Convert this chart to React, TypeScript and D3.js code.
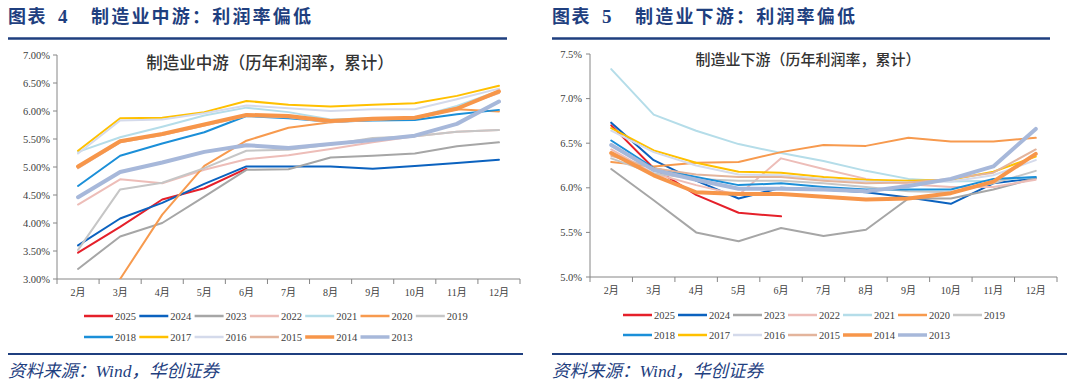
import React from "react";
import * as d3 from "d3";

const months = ["2月", "3月", "4月", "5月", "6月", "7月", "8月", "9月", "10月", "11月", "12月"];
const years = ["2025", "2024", "2023", "2022", "2021", "2020", "2019", "2018", "2017", "2016", "2015", "2014", "2013"];
const colors = ["#E5202A", "#0B62BF", "#A6A6A6", "#EDBDB8", "#B5DDE9", "#F79A4E", "#C6C6C6", "#1B8FD8", "#FFC000", "#D4DAEB", "#E3B49C", "#F7964A", "#A7B8DA"];
const widths = [2, 2, 2, 2, 2, 2, 2, 2, 2, 2, 2, 4, 4];

type V = number | null;

// 制造业中游 (left)
const mid2025: V[] = [3.47, 3.93, 4.42, 4.62, 4.97, null, null, null, null, null, null];
const mid2024: V[] = [3.6, 4.08, 4.36, 4.7, 5.01, 5.01, 5.01, 4.97, 5.02, 5.07, 5.13];
const mid2023: V[] = [3.18, 3.76, 4.0, 4.47, 4.95, 4.96, 5.17, 5.2, 5.24, 5.37, 5.44];
const mid2022: V[] = [4.33, 4.78, 4.71, 4.95, 5.14, 5.21, 5.32, 5.44, 5.55, 5.63, 5.66];
const mid2021: V[] = [5.27, 5.53, 5.72, 5.92, 6.06, 5.98, 5.85, 5.87, 5.88, 6.09, 6.36];
const mid2020: V[] = [null, 3.0, 4.15, 5.02, 5.47, 5.7, 5.8, 5.85, 5.87, 6.03, 5.99];
const mid2019: V[] = [3.52, 4.6, 4.72, 4.98, 5.29, 5.31, 5.4, 5.52, 5.55, 5.63, 5.66];
const mid2018: V[] = [4.66, 5.2, 5.42, 5.62, 5.91, 5.87, 5.81, 5.83, 5.84, 5.94, 6.02];
const mid2017: V[] = [5.29, 5.87, 5.88, 5.98, 6.18, 6.11, 6.08, 6.11, 6.14, 6.27, 6.45];
const mid2016: V[] = [5.24, 5.83, 5.85, 5.96, 6.1, 6.05, 6.0, 6.03, 6.03, 6.21, 6.4];
const mid2015: V[] = [4.98, 5.44, 5.57, 5.74, 5.91, 5.89, 5.8, 5.84, 5.88, 6.06, 6.32];
const mid2014: V[] = [5.01, 5.46, 5.59, 5.76, 5.93, 5.91, 5.82, 5.86, 5.88, 6.04, 6.35];
const mid2013: V[] = [4.46, 4.91, 5.08, 5.27, 5.39, 5.34, 5.41, 5.48, 5.56, 5.77, 6.17];

// 制造业下游 (right)
const down2025: V[] = [6.7, 6.22, 5.92, 5.72, 5.68, null, null, null, null, null, null];
const down2024: V[] = [6.73, 6.31, 6.08, 5.88, 6.0, 5.98, 5.95, 5.89, 5.82, 6.05, 6.11];
const down2023: V[] = [6.21, 5.86, 5.5, 5.4, 5.55, 5.46, 5.53, 5.88, 5.88, 5.98, 6.11];
const down2022: V[] = [6.43, 6.16, 6.03, 5.92, 6.33, 6.21, 6.1, 6.04, 6.01, 6.01, 6.09];
const down2021: V[] = [7.33, 6.82, 6.64, 6.49, 6.39, 6.3, 6.19, 6.1, 6.07, 6.08, 6.12];
const down2020: V[] = [6.29, 6.24, 6.28, 6.29, 6.4, 6.48, 6.47, 6.56, 6.52, 6.52, 6.56];
const down2019: V[] = [6.33, 6.16, 6.1, 6.08, 6.08, 6.05, 6.01, 5.96, 5.95, 6.05, 6.19];
const down2018: V[] = [6.53, 6.22, 6.12, 6.03, 6.05, 6.01, 5.98, 5.98, 5.98, 6.1, 6.12];
const down2017: V[] = [6.67, 6.42, 6.28, 6.18, 6.17, 6.12, 6.09, 6.08, 6.09, 6.18, 6.35];
const down2016: V[] = [6.64, 6.4, 6.25, 6.15, 6.14, 6.1, 6.07, 6.06, 6.07, 6.14, 6.31];
const down2015: V[] = [6.36, 6.22, 6.15, 6.12, 6.12, 6.08, 6.05, 6.06, 6.1, 6.17, 6.43];
const down2014: V[] = [6.39, 6.14, 5.95, 5.93, 5.93, 5.9, 5.87, 5.88, 5.94, 6.07, 6.38];
const down2013: V[] = [6.48, 6.2, 6.09, 5.99, 5.99, 5.98, 5.96, 6.02, 6.1, 6.24, 6.66];

const midSeries = [mid2025, mid2024, mid2023, mid2022, mid2021, mid2020, mid2019, mid2018, mid2017, mid2016, mid2015, mid2014, mid2013];
const downSeries = [down2025, down2024, down2023, down2022, down2021, down2020, down2019, down2018, down2017, down2016, down2015, down2014, down2013];

const midTicks = [3.0, 3.5, 4.0, 4.5, 5.0, 5.5, 6.0, 6.5, 7.0];
const downTicks = [5.0, 5.5, 6.0, 6.5, 7.0, 7.5];

const NAVY = "#1F3F7F";
const SERIF = "'Times New Roman', 'Liberation Serif', 'Noto Sans CJK SC', serif";
const CJK = "'Noto Sans CJK SC', sans-serif";

type PanelProps = {
  id: string;
  left: number;
  headerNum: string;
  headerText: string;
  title: string;
  titleX: number;
  titleY: number;
  titleSize: number;
  x0: number;
  x1: number;
  yTop: number;
  yBottom: number;
  domain: [number, number];
  ticks: number[];
  decimals: number;
  labelRight: number;
  series: V[][];
  legendX: number;
  legendY: number[];
  legendStep: number;
  ruleRight: number;
  footRight: number;
};

function Panel(p: PanelProps) {
  const x = d3.scaleBand<string>().domain(months).range([p.x0, p.x1]).padding(0);
  const y = d3.scaleLinear().domain(p.domain).range([p.yBottom, p.yTop]);
  const line = d3
    .line<V>()
    .defined((d) => d !== null)
    .x((_, i) => (x(months[i]) as number) + x.bandwidth() / 2)
    .y((d) => y(d as number));
  const boundaries = months.map((m) => x(m) as number).concat([p.x1]);
  const order = years.map((_, i) => i);
  return (
    <g>
      <text x={p.left} y={23} fontFamily={CJK} fontWeight={700} fontSize={18} letterSpacing={1.5} fill={NAVY}>
        图表
      </text>
      <text x={p.left + 50} y={23} fontFamily={SERIF} fontWeight={700} fontSize={19} fill={NAVY}>
        {p.headerNum}
      </text>
      <text x={p.left + 83} y={23} fontFamily={CJK} fontWeight={700} fontSize={18} letterSpacing={2.2} fill={NAVY}>
        {p.headerText}
      </text>
      <line x1={p.left} x2={p.ruleRight} y1={38.5} y2={38.5} stroke={NAVY} strokeWidth={2.5} />
      <text x={p.titleX} y={p.titleY} textAnchor="middle" dominantBaseline="central" fontFamily={CJK} fontWeight={500} fontSize={p.titleSize} fill="#333">
        {p.title}
      </text>
      <clipPath id={p.id}>
        <rect x={p.x0} y={p.yTop - 6} width={p.x1 - p.x0} height={p.yBottom - p.yTop + 6} />
      </clipPath>
      {p.ticks.map((t) => (
        <g key={t}>
          <line x1={p.x0 - 4} x2={p.x0} y1={y(t)} y2={y(t)} stroke="#868686" />
          <text x={p.labelRight} y={y(t)} textAnchor="end" dominantBaseline="central" fontFamily={SERIF} fontSize={10.5} fill="#404040">
            {d3.format(`.${p.decimals}f`)(t) + "%"}
          </text>
        </g>
      ))}
      <line x1={p.x0} x2={p.x0} y1={p.yTop} y2={p.yBottom} stroke="#868686" />
      <line x1={p.x0} x2={p.x1} y1={p.yBottom} y2={p.yBottom} stroke="#868686" />
      {boundaries.map((b, i) => (
        <line key={i} x1={b} x2={b} y1={p.yBottom} y2={p.yBottom + 5} stroke="#868686" />
      ))}
      {months.map((m) => (
        <text key={m} x={(x(m) as number) + x.bandwidth() / 2} y={p.yBottom + 13} textAnchor="middle" dominantBaseline="central" fontFamily={SERIF} fontSize={10} fill="#404040">
          {m}
        </text>
      ))}
      <g clipPath={`url(#${p.id})`}>
        {order.map((i) => (
          <path key={years[i]} d={line(p.series[i]) || ""} fill="none" stroke={colors[i]} strokeWidth={widths[i]} strokeLinejoin="round" strokeLinecap="round" />
        ))}
      </g>
      {years.map((yr, i) => {
        const row = i < 7 ? 0 : 1;
        const col = i < 7 ? i : i - 7;
        const lx = p.legendX + col * p.legendStep;
        const ly = p.legendY[row];
        return (
          <g key={yr}>
            <line x1={lx} x2={lx + 29} y1={ly} y2={ly} stroke={colors[i]} strokeWidth={widths[i] === 4 ? 3.5 : 2.5} />
            <text x={lx + 31} y={ly} dominantBaseline="central" fontFamily={SERIF} fontSize={10.5} fill="#404040">
              {yr}
            </text>
          </g>
        );
      })}
      <line x1={p.left} x2={p.footRight} y1={354} y2={354} stroke={NAVY} strokeWidth={2} />
      <text x={p.left} y={377} fontFamily={SERIF} fontStyle="italic" fontSize={17.5} fill={NAVY}>
        资料来源：Wind，华创证券
      </text>
    </g>
  );
}

export default function App() {
  return (
    <svg width={1080} height={385} style={{ position: "absolute", left: 0, top: 0, background: "#fff" }}>
      <rect x={0} y={0} width={1080} height={385} fill="#fff" />
      <Panel
        id="clipMid"
        left={8}
        headerNum="4"
        headerText="制造业中游：利润率偏低"
        title="制造业中游（历年利润率，累计）"
        titleX={270}
        titleY={62}
        titleSize={16.5}
        x0={57}
        x1={520}
        yTop={55}
        yBottom={279}
        domain={[3, 7]}
        ticks={midTicks}
        decimals={2}
        labelRight={50}
        series={midSeries}
        legendX={84}
        legendY={[316, 337]}
        legendStep={55.3}
        ruleRight={507}
        footRight={523}
      />
      <Panel
        id="clipDown"
        left={552}
        headerNum="5"
        headerText="制造业下游：利润率偏低"
        title="制造业下游（历年利润率，累计）"
        titleX={808}
        titleY={58}
        titleSize={15}
        x0={590}
        x1={1057}
        yTop={54}
        yBottom={277}
        domain={[5, 7.5]}
        ticks={downTicks}
        decimals={1}
        labelRight={582}
        series={downSeries}
        legendX={623}
        legendY={[315, 335]}
        legendStep={55}
        ruleRight={1050}
        footRight={1067}
      />
    </svg>
  );
}
